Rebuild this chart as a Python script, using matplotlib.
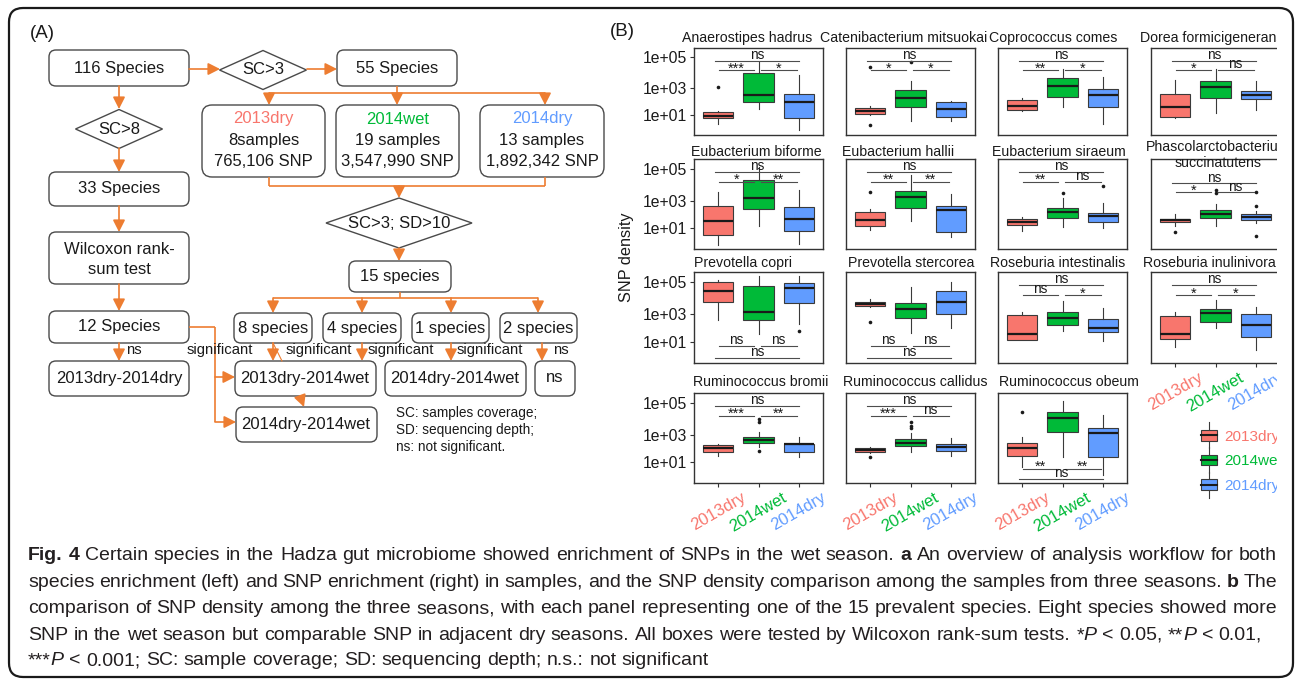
import numpy as np
import matplotlib
matplotlib.use("Agg")
import matplotlib.pyplot as plt
from matplotlib.patches import FancyBboxPatch, Polygon, Rectangle
from matplotlib.lines import Line2D
from matplotlib.legend_handler import HandlerBase

plt.rcParams["font.family"] = ["Liberation Sans", "DejaVu Sans"]

# ---------------- data ----------------
groups = ["2013dry", "2014wet", "2014dry"]
group_colors = ["#F8766D", "#00BA38", "#619CFF"]

species = [
    "Anaerostipes hadrus", "Catenibacterium mitsuokai", "Coprococcus comes", "Dorea formicigenerans",
    "Eubacterium biforme", "Eubacterium hallii", "Eubacterium siraeum", "Phascolarctobacterium\nsuccinatutens",
    "Prevotella copri", "Prevotella stercorea", "Roseburia intestinalis", "Roseburia inulinivora",
    "Ruminococcus bromii", "Ruminococcus callidus", "Ruminococcus obeum",
]

# box stats in log10(SNP density): lower whisker, Q1, median, Q3, upper whisker
dry13 = [
    [0.2, 0.7, 0.95, 1.27, 1.3], [1.0, 1.08, 1.3, 1.55, 1.75], [1.35, 1.43, 1.75, 2.15, 2.33], [0.73, 0.8, 1.67, 2.58, 3.6],
    [-0.5, 0.4, 1.56, 2.68, 3.56], [0.82, 1.2, 1.63, 2.23, 2.43], [0.8, 1.3, 1.5, 1.72, 1.85], [1.2, 1.5, 1.63, 1.75, 2.12],
    [2.6, 3.8, 4.45, 4.97, 5.1], [3.5, 3.55, 3.65, 3.76, 3.96], [1.15, 1.2, 1.65, 2.95, 3.13], [0.55, 1.27, 1.62, 2.9, 3.13],
    [1.5, 1.8, 2.1, 2.3, 2.4], [1.75, 1.82, 1.95, 2.07, 2.2], [0.6, 1.5, 2.1, 2.47, 2.85],
]
wet14 = [
    [1.5, 2.0, 2.55, 4.0, 4.7], [0.45, 1.65, 2.3, 2.93, 3.5], [1.62, 2.43, 3.15, 3.7, 4.3], [1.2, 2.33, 3.1, 3.53, 4.3],
    [1.22, 2.43, 3.2, 4.3, 5.1], [1.55, 2.55, 3.28, 3.67, 4.6], [1.08, 1.82, 2.25, 2.55, 3.2], [1.22, 1.82, 2.1, 2.38, 2.82],
    [1.6, 2.6, 3.17, 4.75, 5.3], [1.73, 2.76, 3.37, 3.7, 4.7], [1.82, 2.25, 2.75, 3.13, 3.88], [2.05, 2.5, 3.07, 3.35, 3.93],
    [2.2, 2.47, 2.68, 2.85, 3.2], [1.78, 2.23, 2.47, 2.72, 3.1], [1.45, 3.2, 4.05, 4.47, 5.08],
]
dry14 = [
    [-0.4, 0.72, 2.05, 2.6, 3.9], [0.45, 0.85, 1.5, 2.0, 2.1], [0.15, 1.65, 2.55, 2.97, 3.8], [1.43, 2.23, 2.55, 2.85, 3.5],
    [-0.4, 0.75, 1.7, 2.58, 3.7], [0.28, 0.65, 2.38, 2.65, 3.45], [1.02, 1.5, 1.95, 2.13, 2.88], [1.4, 1.68, 1.9, 2.1, 2.3],
    [2.35, 3.75, 4.66, 4.95, 5.3], [2.1, 3.05, 3.76, 4.45, 5.0], [1.07, 1.75, 2.05, 2.66, 3.42], [0.3, 1.4, 2.25, 3.05, 3.45],
    [1.45, 1.8, 2.35, 2.4, 2.85], [1.5, 1.85, 2.15, 2.4, 2.8], [-0.1, 1.45, 3.1, 3.45, 4.25],
]
out13 = [[3.1], [0.05, 4.4], [], [], [], [3.6], [], [0.72], [], [2.5], [], [], [], [1.45], [4.47]]
out_wet14 = [[], [4.7], [], [], [], [], [3.52], [3.5, 3.73], [], [], [], [], [1.85, 3.85, 4.0], [3.45, 3.6, 3.8], []]
out_dry14 = [[], [], [], [], [], [], [3.97], [0.37, 2.65, 3.55], [1.85], [], [], [], [], [], []]

# Wilcoxon labels: 2013dry-2014wet, 2014wet-2014dry, 2013dry-2014dry
sig_12 = ["***", "*", "**", "*", "*", "**", "**", "*", "ns", "ns", "ns", "*", "***", "***", "**"]
sig_23 = ["*", "*", "*", "ns", "**", "**", "ns", "ns", "ns", "ns", "*", "*", "**", "ns", "**"]
sig_13 = ["ns"] * 15

ytick_vals = [1, 3, 5]
ytick_labels = ["1e+01", "1e+03", "1e+05"]

# ---------------- layout ----------------
W, H = 1295, 679
OR = "#ED7D31"
EDGE = "#4a4a4a"
TXT = "#1a1a1a"

fig = plt.figure(figsize=(W / 100, H / 100), dpi=100)
ax0 = fig.add_axes([0, 0, 1, 1], zorder=10)
ax0.set_xlim(0, W)
ax0.set_ylim(H, 0)
ax0.axis("off")
ax0.patch.set_visible(False)


def rbox(x0, y0, x1, y1, r=7):
    ax0.add_patch(FancyBboxPatch((x0, y0), x1 - x0, y1 - y0,
                                 boxstyle=f"round,pad=0,rounding_size={r}",
                                 fc="white", ec=EDGE, lw=1.0))


def diamond(cx, cy, w, h):
    ax0.add_patch(Polygon([(cx - w / 2, cy), (cx, cy - h / 2), (cx + w / 2, cy), (cx, cy + h / 2)],
                          closed=True, fc="white", ec=EDGE, lw=1.0))


def seg(xs, ys):
    ax0.plot(xs, ys, color=OR, lw=1.2, solid_capstyle="butt")


def arrow(x0, y0, x1, y1):
    ax0.annotate("", xy=(x1, y1), xytext=(x0, y0),
                 arrowprops=dict(arrowstyle="-|>,head_length=0.55,head_width=0.28", color=OR,
                                 lw=1.2, shrinkA=0, shrinkB=0, mutation_scale=13))


def label(x, y, s, size=12, color=TXT, **kw):
    ax0.text(x, y, s, fontsize=size, color=color, ha="center", va="center", **kw)


# panel A flowchart
label(42, 33, "(A)", size=13.5)
rbox(49, 50, 189, 86); label(119, 68, "116 Species")
diamond(263, 70, 87, 39); label(263, 70, "SC>3")
rbox(337, 50, 457, 86); label(397, 68, "55 Species")
arrow(189, 69, 220, 69)
arrow(307, 69, 337, 69)
seg([397, 397], [86, 93]); seg([269, 545], [93, 93])
for xx in (269, 397, 545):
    arrow(xx, 93, xx, 105)
for (x0_, x1_), g, n1, n2 in zip([(202, 325), (336, 459), (480, 604)], range(3),
                                  ["8samples", "19 samples", "13 samples"],
                                  ["765,106 SNP", "3,547,990 SNP", "1,892,342 SNP"]):
    rbox(x0_, 105, x1_, 177, r=10)
    cx = (x0_ + x1_) / 2
    label(cx, 119, groups[g], color=group_colors[g])
    label(cx, 140, n1)
    label(cx, 161, n2)
seg([269, 269], [177, 186]); seg([545, 545], [177, 186]); seg([269, 545], [186, 186])
arrow(399, 186, 399, 198)
diamond(399, 223, 146, 50); label(399, 223, "SC>3; SD>10")
arrow(399, 248, 399, 261)
rbox(349, 261, 451, 292); label(400, 276, "15 species")
seg([400, 400], [292, 298]); seg([273, 538], [298, 298])
for xx in (273, 362, 451, 538):
    arrow(xx, 298, xx, 313)
for (x0_, x1_), s in zip([(234, 312), (323, 401), (412, 489), (500, 577)],
                         ["8 species", "4 species", "1 species", "2 species"]):
    rbox(x0_, 313, x1_, 343); label((x0_ + x1_) / 2, 328, s)
for xx in (273, 362, 451, 542):
    arrow(xx, 343, xx, 361)
ax0.plot([273, 282], [343, 361], color=OR, lw=0.8)
for xx in (220, 319, 401, 490):
    label(xx, 350, "significant", size=10.7)
label(561, 350, "ns", size=10.7)
rbox(235, 361, 376, 396); label(305, 378, "2013dry-2014wet")
rbox(385, 361, 526, 396); label(455, 378, "2014dry-2014wet")
rbox(535, 361, 575, 396); label(555, 378, "ns")
arrow(300, 396, 304, 407)
rbox(236, 407, 377, 442); label(306, 424, "2014dry-2014wet")
ax0.text(396, 413, "SC: samples coverage;", fontsize=9.8, color=TXT, va="center")
ax0.text(396, 430, "SD: sequencing depth;", fontsize=9.8, color=TXT, va="center")
ax0.text(396, 447, "ns: not significant.", fontsize=9.8, color=TXT, va="center")

# left column
arrow(119, 86, 119, 109)
diamond(119, 129, 87, 39); label(119, 129, "SC>8")
arrow(119, 148, 119, 172)
rbox(49, 172, 189, 206); label(119, 189, "33 Species")
arrow(119, 206, 119, 232)
rbox(49, 232, 189, 284); label(119, 249, "Wilcoxon rank-"); label(119, 269, "sum test")
arrow(119, 284, 119, 311)
rbox(49, 311, 189, 343); label(119, 327, "12 Species")
arrow(119, 343, 119, 361)
label(134, 350, "ns", size=10.7)
rbox(49, 361, 189, 396); label(119, 378, "2013dry-2014dry")
seg([189, 215], [327, 327]); seg([215, 215], [327, 422])
arrow(215, 377, 235, 377)
arrow(215, 422, 236, 422)

# ---------------- panel B ----------------
label(622, 32, "(B)", size=13.5)
ax0.text(627, 257, "SNP density", fontsize=11.7, rotation=90, ha="center", va="center", color=TXT)


def fwd(v):
    return np.power(np.clip(np.asarray(v, dtype=float) + 2, 1e-6, None), 1.4)


def inv(p):
    return np.power(np.clip(np.asarray(p, dtype=float), 1e-6, None), 1 / 1.4) - 2


col_x = [694, 846, 998, 1151]
ax_w = 129
row_y = [(48, 135), (159, 249), (272, 363), (393, 483)]
title_x = [682, 820, 989, 1140, 691, 842, 992, None, 694, 848, 990, 1143, 693, 843, 999]
title_y = [38, 152, 263, 382]
bottom_panels = {11, 12, 13, 14}


def sig(ax, x0, x1, y, lab):
    ax.plot([x0, x1], [y, y], color="#4d4d4d", lw=0.8)
    if lab == "ns":
        ax.annotate(lab, ((x0 + x1) / 2, y), xytext=(0, 1.3), textcoords="offset points",
                    ha="center", va="baseline", fontsize=9.8, color=TXT)
    else:
        ax.annotate(lab, ((x0 + x1) / 2, y), xytext=(0, -1.6), textcoords="offset points",
                    ha="center", va="baseline", fontsize=10.5, color=TXT)


for i, name in enumerate(species):
    r, c = divmod(i, 4)
    top, bot = row_y[r]
    ax = fig.add_axes([col_x[c] / W, 1 - bot / H, ax_w / W, (bot - top) / H])
    stats = []
    for box, fl in ((dry13[i], out13[i]), (wet14[i], out_wet14[i]), (dry14[i], out_dry14[i])):
        stats.append(dict(whislo=box[0], q1=box[1], med=box[2], q3=box[3], whishi=box[4],
                          fliers=np.array(fl, dtype=float)))
    bp = ax.bxp(stats, positions=[1, 2, 3], widths=0.75, patch_artist=True, showcaps=False,
                boxprops=dict(edgecolor="#3a3a3a", linewidth=0.8),
                medianprops=dict(color="#1a1a1a", linewidth=1.6),
                whiskerprops=dict(color="#3a3a3a", linewidth=0.8),
                flierprops=dict(marker="o", markersize=2.6, markerfacecolor="#1a1a1a",
                                markeredgecolor="none"))
    for patch, col in zip(bp["boxes"], group_colors):
        patch.set_facecolor(col)
    ax.set_yscale("function", functions=(fwd, inv))
    ax.set_xlim(0.4, 3.6)
    ax.set_ylim(-1.01, 5.55)
    ax.set_yticks(ytick_vals)
    if c == 0:
        ax.set_yticklabels(ytick_labels)
        ax.tick_params(axis="y", length=3, width=0.8, color="#333333", labelsize=11.3, pad=2,
                       labelcolor=TXT)
    else:
        ax.set_yticklabels([])
        ax.tick_params(axis="y", length=0)
    ax.yaxis.set_minor_locator(matplotlib.ticker.NullLocator())
    if i in bottom_panels:
        ax.set_xticks([1, 2, 3])
        ax.set_xticklabels(groups, rotation=30, ha="center", va="top", fontsize=12)
        for lab, col in zip(ax.get_xticklabels(), group_colors):
            lab.set_color(col)
        ax.tick_params(axis="x", length=3, width=0.8, color="#333333", pad=2)
    else:
        ax.set_xticks([])
    for sp in ax.spines.values():
        sp.set_linewidth(1.0)
        sp.set_color("#333333")

    # significance brackets
    if i in (8, 9):
        y_pair, y_all = 0.67, -0.4
    elif i == 14:
        y_pair, y_all = 0.45, -0.55
    elif i == 7:
        y_pair, y_all = 3.55, 4.12
    else:
        y_pair, y_all = 4.2, 4.8
    sig(ax, 0.92, 3.0, y_all, sig_13[i])
    sig(ax, 1.02, 1.88, y_pair, sig_12[i])
    sig(ax, 2.05, 2.95, y_pair, sig_23[i])

    if title_x[i] is None:
        ax0.text(1218, 155, name, fontsize=10.2, ha="center", va="center", color=TXT,
                 multialignment="center", linespacing=1.1)
    else:
        ax0.text(title_x[i], title_y[r], name, fontsize=10.2, ha="left", va="center", color=TXT)


class BoxKey(HandlerBase):
    def create_artists(self, legend, orig_handle, xdescent, ydescent, width, height, fontsize, trans):
        cx = width / 2 - xdescent
        cy = height / 2 - ydescent
        bw = width * 0.85
        bh = height * 0.75
        whisk = Line2D([cx, cx], [cy - height * 0.95, cy + height * 0.95], color="#3a3a3a", lw=0.8,
                       transform=trans)
        box = Rectangle((cx - bw / 2, cy - bh / 2), bw, bh, fc=orig_handle.get_facecolor(),
                        ec="#3a3a3a", lw=0.8, transform=trans)
        med = Line2D([cx - bw / 2, cx + bw / 2], [cy, cy], color="#1a1a1a", lw=1.5, transform=trans)
        return [whisk, box, med]


handles = [Rectangle((0, 0), 1, 1, fc=col) for col in group_colors]
fig.legend(handles, groups, loc="upper left", bbox_to_anchor=(1192 / W, 1 - 421 / H),
           frameon=False, fontsize=11, labelcolor=group_colors, handler_map={Rectangle: BoxKey()},
           handlelength=1.2, handleheight=1.0, handletextpad=0.4, labelspacing=0.62, borderpad=0)

# hide the cut-off right edge of panel B, as in the source figure
ax0.add_patch(Rectangle((1277, 14), 14.5, 520, fc="white", ec="none", zorder=4))

# outer frame
ax0.add_patch(FancyBboxPatch((9, 8), 1284, 669, boxstyle="round,pad=0,rounding_size=14",
                             fc="none", ec="#1a1a1a", lw=1.6, zorder=5))

# ---------------- caption ----------------
caption = [
    "{Fig. 4} Certain species in the Hadza gut microbiome showed enrichment of SNPs in the wet season. {a} An overview of analysis workflow for both",
    "species enrichment (left) and SNP enrichment (right) in samples, and the SNP density comparison among the samples from three seasons. {b} The",
    "comparison of SNP density among the three seasons, with each panel representing one of the 15 prevalent species. Eight species showed more",
    "SNP in the wet season but comparable SNP in adjacent dry seasons. All boxes were tested by Wilcoxon rank-sum tests. *|P| < 0.05, **|P| < 0.01,",
    "***|P| < 0.001; SC: sample coverage; SD: sequencing depth; n.s.: not significant",
]


def parse(line):
    chars, style = [], "n"
    for ch in line:
        if ch == "{":
            style = "b"
        elif ch == "}":
            style = "n"
        elif ch == "|":
            style = "i" if style != "i" else "n"
        else:
            chars.append((ch, style))
    words, cur = [], []
    for ch, st in chars:
        if ch == " ":
            if cur:
                words.append(cur)
                cur = []
        elif cur and cur[-1][1] == st:
            cur[-1] = (cur[-1][0] + ch, st)
        else:
            cur.append((ch, st))
    if cur:
        words.append(cur)
    return words


renderer = fig.canvas.get_renderer()
CAP = "#231f20"


def make_text(s, st, size, y=0):
    return ax0.text(0, y, s, fontsize=size, color=CAP, va="baseline", ha="left",
                    fontweight="bold" if st == "b" else "normal",
                    fontstyle="italic" if st == "i" else "normal")


def caption_line(words, y, size, x0, x1=None):
    segs, widths = [], []
    for w in words:
        parts = []
        for s, st in w:
            t = make_text(s, st, size, y)
            parts.append((t, t.get_window_extent(renderer).width))
        segs.append(parts)
        widths.append(sum(p[1] for p in parts))
    space = 0.278 * size * 100 / 72
    gap = space if x1 is None else (x1 - x0 - sum(widths)) / (len(words) - 1)
    x = x0
    for parts in segs:
        for t, wd in parts:
            t.set_x(x)
            x += wd
        x += gap


# choose a size so the plain third line fills the text width
cap_x0, cap_x1 = 28, 1277
probe = make_text(" ".join(s for w in parse(caption[2]) for s, _ in w), "n", 13)
nat = probe.get_window_extent(renderer).width
probe.remove()
cap_size = 13 * (cap_x1 - cap_x0) / nat * 0.995
cap_y = [560, 587, 613, 640, 665]
for k, line in enumerate(caption):
    caption_line(parse(line), cap_y[k], cap_size, cap_x0, cap_x1 if k < 3 else None)

fig.savefig("out.png", dpi=100, facecolor="white")
